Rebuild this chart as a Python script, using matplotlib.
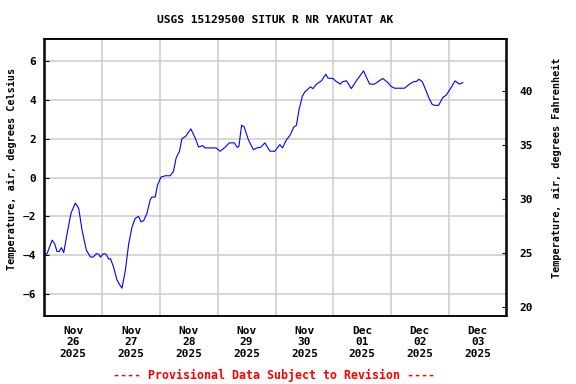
import numpy as np
import matplotlib
matplotlib.use("Agg")
import matplotlib.pyplot as plt

# hours since Nov 26 2025 00:00, air temperature in deg C
hours = [0, 1.1, 3.2, 4.2, 5.2, 6.2, 7, 8, 9.4, 11, 12.8, 14.2, 15.6, 17.4, 19.1,
         20.2, 21.6, 22.6, 23.2, 24.6, 25.6, 26.7, 27.4, 28.7, 30.1, 31.2, 32.2,
         33.6, 35, 36.4, 37.7, 39.1, 40.1, 41.2, 42.6, 43.9, 44.6, 46, 47, 48.4,
         50.2, 52.2, 53.6, 54.7, 56.1, 57.1, 58.7, 60.8, 62.6, 64, 65.8, 66.7,
         71.3, 73, 75, 76.8, 78.9, 80.1, 80.8, 81.9, 83, 84.7, 86.8, 88.2, 89.8,
         91.6, 93.7, 95.7, 97.8, 98.9, 100.6, 102, 103.6, 104.7, 105.8, 107.2,
         108.2, 110.5, 111.6, 113, 115.1, 116.9, 117.8, 119.9, 121.3, 123, 123.8,
         125.5, 127.5, 129.6, 132.6, 135.1, 137.2, 138.6, 140.6, 142.7, 144.1,
         145.5, 149.6, 151.7, 153.5, 154.5, 155.6, 157, 158.6, 159.7, 161.1, 162,
         163.8, 165.5, 166.9, 168.3, 169.4, 170.6, 172.4, 173.8]
temp_c = [-4.0, -3.9, -3.22, -3.4, -3.8, -3.8, -3.6, -3.86, -2.88, -1.84, -1.32,
          -1.58, -2.7, -3.74, -4.09, -4.09, -3.91, -3.95, -4.09, -3.91, -3.95,
          -4.2, -4.17, -4.6, -5.26, -5.5, -5.69, -4.78, -3.4, -2.53, -2.1, -2.0,
          -2.28, -2.22, -1.84, -1.15, -1.01, -1.0, -0.38, 0.02, 0.09, 0.09, 0.31,
          1.0, 1.35, 1.99, 2.12, 2.5, 2.04, 1.57, 1.64, 1.52, 1.52, 1.35, 1.55,
          1.78, 1.78, 1.55, 1.6, 2.69, 2.6, 1.95, 1.43, 1.52, 1.55, 1.78, 1.35,
          1.35, 1.69, 1.52, 1.95, 2.16, 2.59, 2.69, 3.5, 4.19, 4.4, 4.66, 4.57,
          4.8, 4.97, 5.31, 5.11, 5.09, 4.93, 4.8, 4.92, 4.97, 4.57, 4.97, 5.48,
          4.8, 4.8, 4.93, 5.09, 4.88, 4.68, 4.59, 4.59, 4.8, 4.93, 4.93, 5.05,
          4.93, 4.45, 4.11, 3.76, 3.71, 3.71, 4.11, 4.23, 4.49, 4.71, 4.97, 4.8,
          4.88]

day_labels = ["Nov\n26\n2025", "Nov\n27\n2025", "Nov\n28\n2025", "Nov\n29\n2025",
              "Nov\n30\n2025", "Dec\n01\n2025", "Dec\n02\n2025", "Dec\n03\n2025"]
c_ticks = [-6, -4, -2, 0, 2, 4, 6]
f_ticks = [20, 25, 30, 35, 40]

plt.rcParams["font.family"] = "DejaVu Sans Mono"
plt.rcParams["font.weight"] = "bold"
plt.rcParams["font.size"] = 8

W, H = 576, 384
fig = plt.figure(figsize=(W / 100, H / 100), dpi=100)
ax = fig.add_axes([44.5 / W, 1 - 316 / H, 462 / W, 277 / H])

ax.plot(hours, temp_c, color="#0000ff", linewidth=0.8)

ndays = len(day_labels)
ax.set_xlim(0, 24 * ndays)
ax.set_ylim(-7.12, 7.12)
ax.set_xticks([24 * i for i in range(1, ndays)])
ax.set_xticklabels([])
ax.set_xticks([24 * i + 12 for i in range(ndays)], minor=True)
ax.set_xticklabels(day_labels, minor=True)
ax.tick_params(axis="x", which="both", length=0)
ax.tick_params(axis="x", which="minor", pad=7)
ax.set_yticks(c_ticks)
ax.tick_params(axis="y", direction="in", length=3, pad=6)
ax.grid(True, which="major", color="#cccccc", linewidth=1.1)
ax.set_axisbelow(True)
for s in ax.spines.values():
    s.set_linewidth(1.1)

ax2 = ax.twinx()
ax2.set_ylim(-7.12 * 1.8 + 32, 7.12 * 1.8 + 32)
ax2.set_yticks(f_ticks)
ax2.tick_params(axis="y", direction="in", length=3, pad=9)
for s in ax2.spines.values():
    s.set_linewidth(1.1)

fig.text(12 / W, 1 - 169 / H, "Temperature, air, degrees Celsius",
         rotation=90, ha="center", va="center", fontsize=7.3)
fig.text(557 / W, 1 - 168 / H, "Temperature, air, degrees Fahrenheit",
         rotation=90, ha="center", va="center", fontsize=7.3)
fig.text(275.5 / W, 1 - 20 / H, "USGS 15129500 SITUK R NR YAKUTAT AK",
         ha="center", va="center", fontsize=8.1)
fig.text(274 / W, 1 - 375 / H, "---- Provisional Data Subject to Revision ----",
         color="#ff0000", ha="center", va="center", fontsize=8.4)

fig.savefig("out.png", dpi=100)
